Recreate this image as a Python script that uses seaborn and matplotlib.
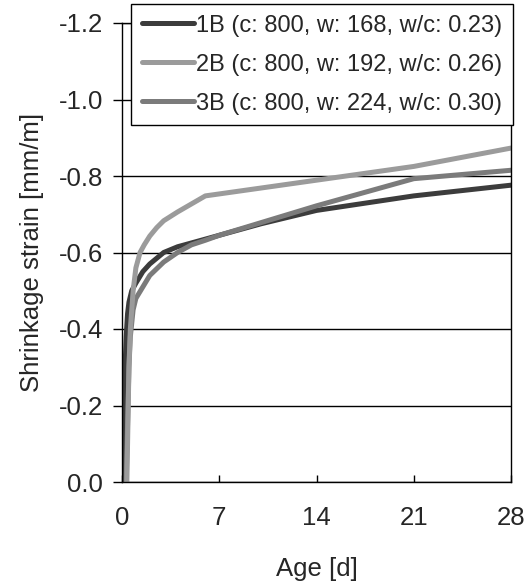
import matplotlib
matplotlib.use("Agg")
import matplotlib.pyplot as plt
import seaborn as sns
import pandas as pd
from matplotlib.ticker import FixedLocator, FuncFormatter

# ---- data ----
labels = ["1B (c: 800, w: 168, w/c: 0.23)",
          "2B (c: 800, w: 192, w/c: 0.26)",
          "3B (c: 800, w: 224, w/c: 0.30)"]

age_1b = [0.18, 0.2, 0.22, 0.25, 0.3, 0.4, 0.5, 0.7, 1.0, 1.5, 2, 3, 4, 5, 6, 7, 10, 14, 21, 28]
strain_1b = [0, -0.15, -0.25, -0.33, -0.38, -0.44, -0.47, -0.5, -0.52, -0.55, -0.57, -0.6,
             -0.615, -0.625, -0.635, -0.645, -0.675, -0.71, -0.748, -0.776]

age_2b = [0.35, 0.4, 0.45, 0.5, 0.6, 0.8, 1.0, 1.3, 1.6, 2.0, 2.5, 3.0, 4, 5, 6, 21, 28]
strain_2b = [0, -0.1, -0.2, -0.3, -0.4, -0.5, -0.56, -0.6, -0.62, -0.643, -0.665,
             -0.683, -0.706, -0.727, -0.748, -0.825, -0.873]

age_3b = [0.3, 0.4, 0.5, 0.6, 0.8, 1.0, 1.5, 2, 3, 4, 5, 6, 7, 14, 21, 28]
strain_3b = [0, -0.15, -0.3, -0.38, -0.45, -0.48, -0.51, -0.54, -0.575, -0.6,
             -0.62, -0.632, -0.645, -0.722, -0.793, -0.815]

x_ticks = [0, 7, 14, 21, 28]
y_ticks = [0.0, -0.2, -0.4, -0.6, -0.8, -1.0, -1.2]

colors = {labels[0]: "#3c3c3c", labels[1]: "#9b9b9b", labels[2]: "#7b7b7b"}
series = {labels[0]: (age_1b, strain_1b),
          labels[1]: (age_2b, strain_2b),
          labels[2]: (age_3b, strain_3b)}

rows = []
for lab in labels:
    ages, vals = series[lab]
    for a, v in zip(ages, vals):
        rows.append({"Age": a, "Strain": v, "Series": lab})
df = pd.DataFrame(rows)

sns.set_style("white")
plt.rcParams["font.family"] = ["Liberation Sans", "DejaVu Sans"]
plt.rcParams["axes.unicode_minus"] = False

fig = plt.figure(figsize=(5.29, 5.82), dpi=100)
ax = fig.add_axes([122/529, 1-482/582, (511-122)/529, (482-23)/582])

# draw order: 1B, 3B, 2B (lighter lines on top)
for lab in [labels[0], labels[2], labels[1]]:
    sns.lineplot(data=df[df["Series"] == lab], x="Age", y="Strain", color=colors[lab],
                 linewidth=3.6, sort=False, estimator=None, ax=ax, label=lab)

ax.set_xlim(0, 28)
ax.set_ylim(0, -1.2)
ax.xaxis.set_major_locator(FixedLocator(x_ticks))
ax.yaxis.set_major_locator(FixedLocator(y_ticks))
ax.yaxis.set_major_formatter(FuncFormatter(lambda v, p: "%.1f" % v if abs(v) > 1e-9 else "0.0"))
ax.grid(axis="y", color="black", linewidth=1.0)
ax.grid(axis="x", visible=False)
ax.set_axisbelow(True)
for s in ax.spines.values():
    s.set_color("black")
    s.set_linewidth(1.0)
    s.set_visible(True)

ax.tick_params(axis="y", direction="out", length=6.5, width=1, color="black",
               labelsize=18.5, pad=7, left=True)
ax.tick_params(axis="x", direction="in", length=5, width=1, color="black",
               labelsize=18.5, pad=17, bottom=True)

ax.set_xlabel("Age [d]", fontsize=18.5, labelpad=20)
ax.set_ylabel("Shrinkage strain [mm/m]", fontsize=18.5, labelpad=11)

handles, labs = ax.get_legend_handles_labels()
order = [labs.index(l) for l in labels]
leg = ax.legend([handles[i] for i in order], [labs[i] for i in order],
                loc="upper right", bbox_to_anchor=(513/529, 1-4/582),
                bbox_transform=fig.transFigure, borderaxespad=0,
                fontsize=17, frameon=True, fancybox=False, framealpha=1,
                edgecolor="black", handlelength=2.2, handletextpad=0.1,
                labelspacing=0.72, borderpad=0.45)
leg.get_frame().set_linewidth(1.0)

fig.savefig("out.png", dpi=100)
